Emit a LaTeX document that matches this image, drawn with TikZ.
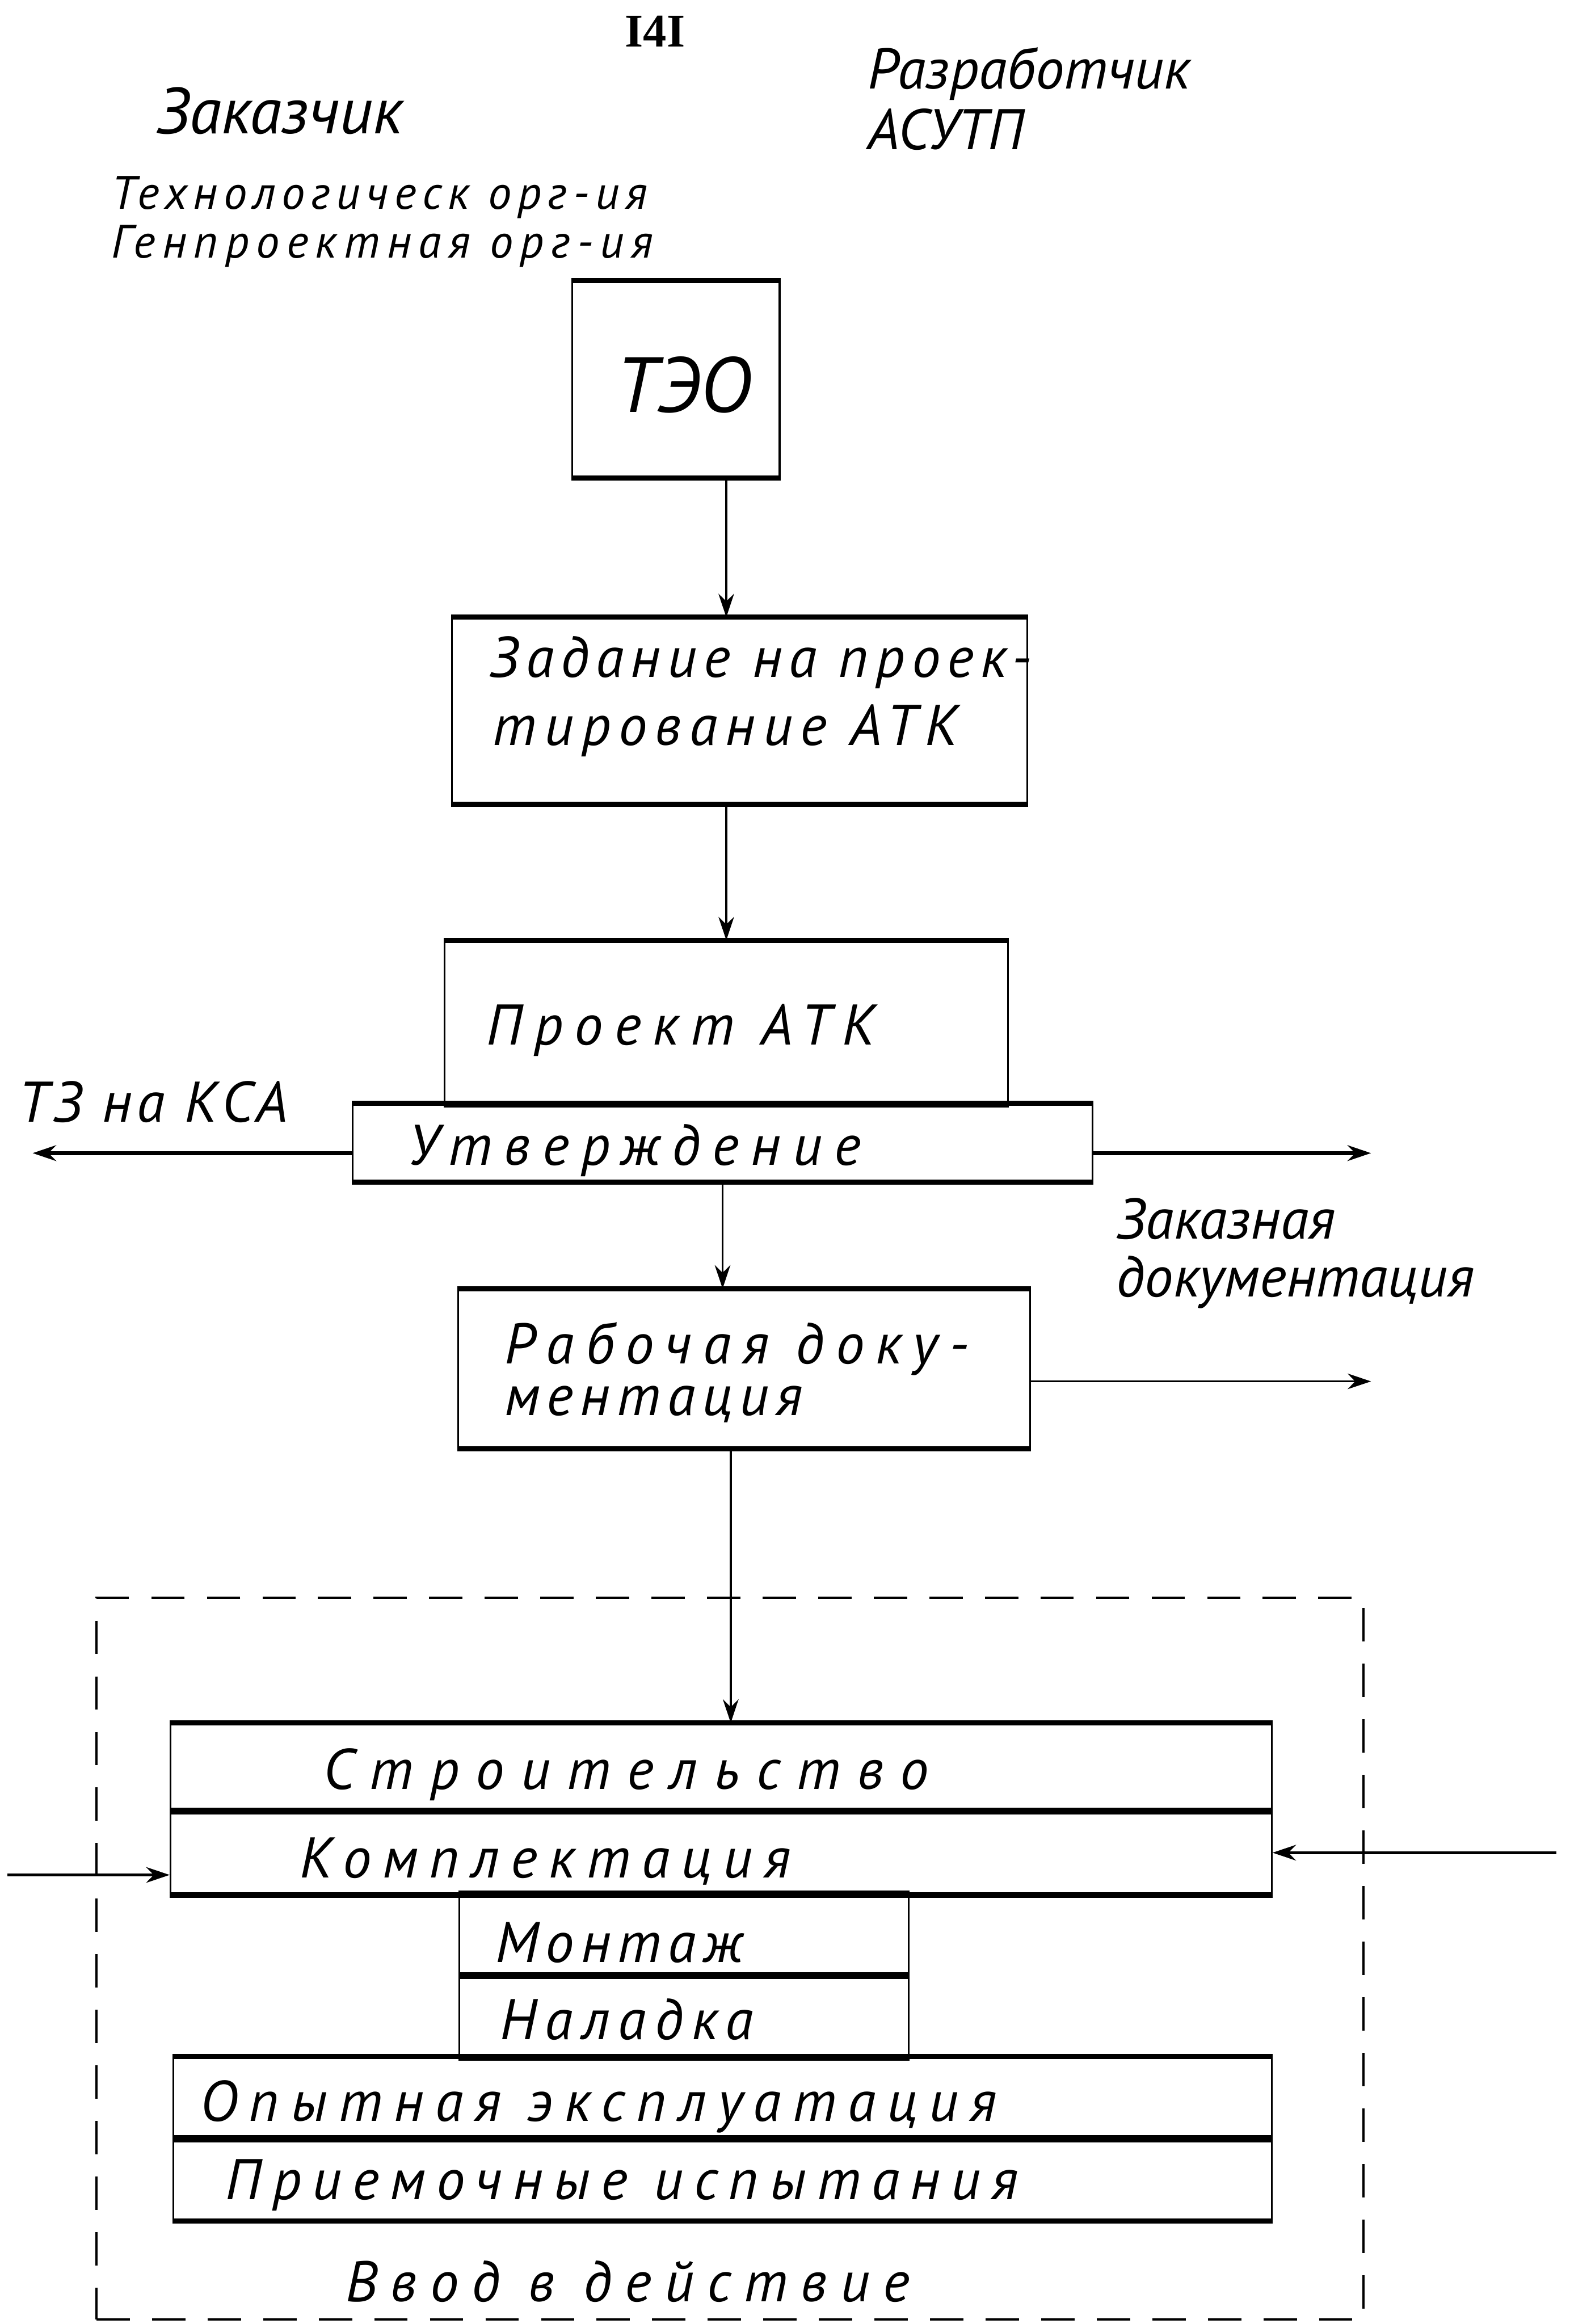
\documentclass[tikz,border=0pt]{standalone}
\usepackage{fontspec}
\setmainfont{PT Sans}
\newfontfamily\numfont{Liberation Serif}
\usetikzlibrary{arrows.meta, positioning}
\tikzset{>={Stealth[length=9pt,width=6pt]}}
\tikzset{
  blk/.style={draw, line width=0.7pt, inner sep=0pt},
  hline/.style={line width=2pt},
  lbl/.style={anchor=base west, inner sep=0pt, font=\itshape\fontsize{22}{26}\selectfont},
  wide/.style={anchor=base west, inner sep=0pt, font=\itshape\fontsize{22}{26}\selectfont\addfontfeature{LetterSpace=#1}},
  wide/.default=20,
}

\begin{document}
\begin{tikzpicture}[x=0.02cm,y=-0.02cm]
    \useasboundingbox (0,0) rectangle (1059,1568);

    % header texts
    \node[font=\numfont\bfseries\fontsize{18}{20}\selectfont] (pg) at (442,21) {I4I};
    \node[lbl, font=\itshape\fontsize{25}{28}\selectfont] (zak) at (105,90) {Заказчик};
    \node[lbl] (razr) at (585,60) {Разработчик};
    \node[lbl] (asu) at (585,101) {АСУТП};
    \node[lbl, font=\itshape\fontsize{18}{21}\selectfont\addfontfeature{LetterSpace=13}] (tech) at (75,141) {Технологическ орг-ия};
    \node[lbl, font=\itshape\fontsize{18}{21}\selectfont\addfontfeature{LetterSpace=15}] (gen) at (75,174) {Генпроектная орг-ия};

    % boxes
    \node[blk, minimum width=2.8cm, minimum height=2.64cm] (teo) at (456,256) {};
    \node[blk, minimum width=7.76cm, minimum height=2.5cm] (zad) at (499,479.5) {};
    \node[blk, minimum width=7.6cm, minimum height=2.2cm] (proj) at (490,690) {};
    \node[blk, minimum width=9.98cm, minimum height=1.04cm] (utv) at (487.5,771) {};
    \node[blk, minimum width=7.72cm, minimum height=2.14cm] (rab) at (502,923.5) {};
    \node[blk, minimum width=14.86cm, minimum height=1.18cm] (str) at (486.5,1192.5) {};
    \node[blk, minimum width=14.86cm, minimum height=1.12cm] (komp) at (486.5,1250) {};
    \node[blk, minimum width=6.06cm, minimum height=1.1cm] (mont) at (461.5,1305.5) {};
    \node[blk, minimum width=6.06cm, minimum height=1.1cm] (nal) at (461.5,1360.5) {};
    \node[blk, minimum width=14.82cm, minimum height=1.1cm] (opyt) at (487.5,1415.5) {};
    \node[blk, minimum width=14.82cm, minimum height=1.1cm] (prie) at (487.5,1470.5) {};
    \foreach \b in {teo,zad,proj,utv,rab,str,komp,mont,nal,opyt,prie}
        \draw[hline] (\b.north west) -- (\b.north east) (\b.south west) -- (\b.south east);

    \node[draw, line width=1pt, dash pattern=on 0.45cm off 0.3cm, minimum width=17.1cm, minimum height=9.74cm] (frame) at (492.5,1321.5) {};

    % box texts
    \node[lbl, font=\itshape\fontsize{30}{34}\selectfont] (teot) at (415,278) {ТЭО};
    \node[wide=12] (zad1) at (330,457) {Задание на проек-};
    \node[wide=14] (zad2) at (332,503) {тирование АТК};
    \node[wide] (projt) at (328,705) {Проект АТК};
    \node[wide=21] (utvt) at (275,786) {Утверждение};
    \node[wide] (rab1) at (340,920) {Рабочая доку-};
    \node[wide=12] (rab2) at (340,955) {ментация};
    \node[wide=29] (strt) at (218,1207) {Строительство};
    \node[wide] (kompt) at (202,1267) {Комплектация};
    \node[wide=12] (montt) at (334,1324) {Монтаж};
    \node[wide=15] (nalt) at (337,1376) {Наладка};
    \node[wide] (opytt) at (135,1431) {Опытная эксплуатация};
    \node[wide=19] (priet) at (152,1484) {Приемочные испытания};
    \node[wide=23] (vvod) at (233,1553) {Ввод в действие};

    % side texts
    \node[lbl, font=\itshape\fontsize{22}{26}\selectfont\addfontfeature{LetterSpace=8}] (tz) at (12,757) {ТЗ на КСА};
    \node[lbl] (zkz1) at (753,836) {Заказная};
    \node[lbl] (zkz2) at (753,875) {документация};

    % arrows
    \coordinate (tzend) at (22,778);
    \coordinate (zdend) at (925,778);
    \coordinate (rdend) at (925,932);
    \coordinate (kin) at (5,1265);
    \coordinate (kout) at (1050,1250);

    \draw[->, line width=0.8pt] (teo.south -| proj.north) -- (zad.north -| proj.north);
    \draw[->, line width=0.8pt] (zad.south -| proj.north) -- (proj.north);
    \draw[->, line width=0.8pt] (utv.south) -- (utv.south |- rab.north);
    \draw[->, line width=0.8pt] ([xshift=-0.18cm]rab.south) -- ([xshift=-0.18cm]rab.south |- str.north);
    \draw[->, line width=1.6pt] (utv.west |- tzend) -- (tzend);
    \draw[->, line width=1.6pt] (utv.east |- zdend) -- (zdend);
    \draw[->, line width=0.8pt] (rab.east |- rdend) -- (rdend);
    \draw[->, line width=1.2pt] (kin) -- (kin -| komp.west);
    \draw[->, line width=1.2pt] (kout) -- (komp.east);
\end{tikzpicture}
\end{document}
